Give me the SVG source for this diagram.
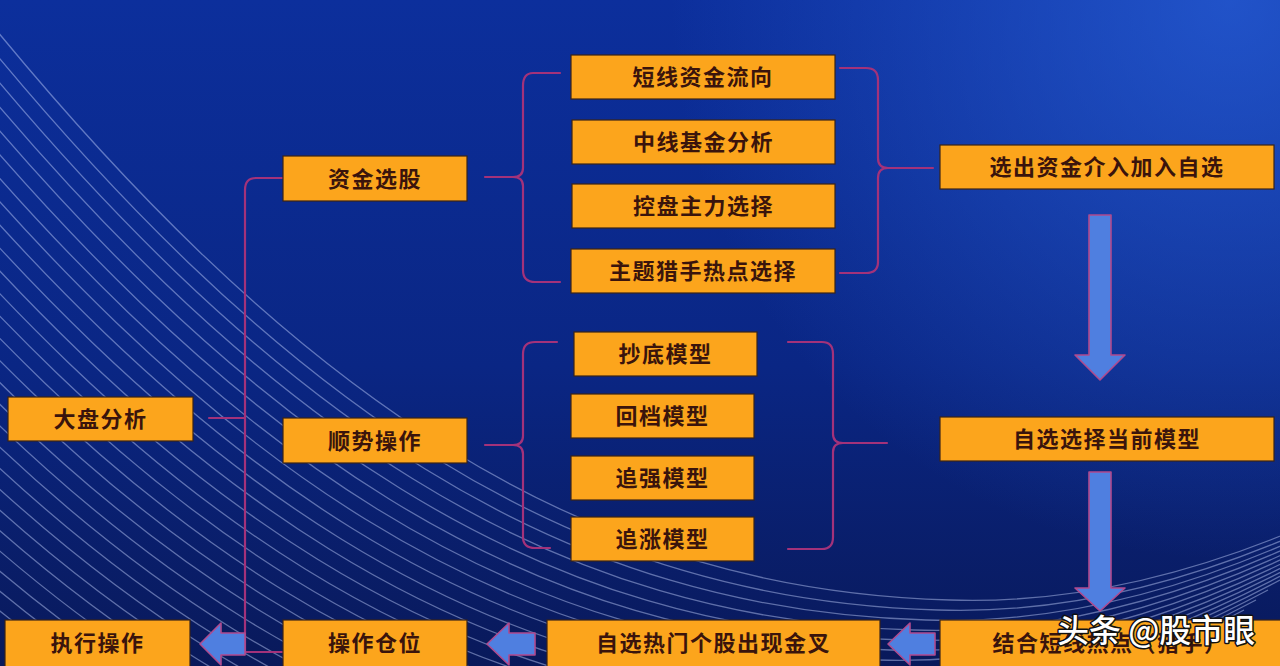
<svg xmlns="http://www.w3.org/2000/svg" xmlns:xlink="http://www.w3.org/1999/xlink" width="1280" height="666" viewBox="0 0 1280 666">
<defs>
<linearGradient id="bgv" x1="0" y1="0" x2="0" y2="1">
<stop offset="0" stop-color="#0c2f9c"/>
<stop offset="0.55" stop-color="#0a2684"/>
<stop offset="1" stop-color="#09195a"/>
</linearGradient>
<radialGradient id="bgr" cx="1230" cy="0" r="560" gradientUnits="userSpaceOnUse">
<stop offset="0" stop-color="#2a62dc" stop-opacity="0.7"/>
<stop offset="1" stop-color="#2a62dc" stop-opacity="0"/>
</radialGradient>
<path id="bgline" d="M -60 -40 C 300 420, 600 590, 950 600 C 1100 605, 1250 560, 1400 480"/>
<style>
.box{fill:#fca51c;stroke:#3a2418;stroke-width:1.2}
.lbl{font-family:"Noto Sans CJK SC","Noto Sans",sans-serif;font-size:22px;font-weight:700;fill:#3a140c;text-anchor:middle;letter-spacing:1.5px}
.con{fill:none;stroke:#a3327a;stroke-width:2.2;stroke-linecap:round;stroke-linejoin:round}
.arr{fill:#4f7fe0;stroke:#b04a8e;stroke-width:1.6;stroke-linejoin:round}
.bl{fill:none;stroke:#c8d4ff;stroke-opacity:0.45;stroke-width:1.3}
.wm{font-family:"Noto Sans CJK SC","Noto Sans",sans-serif;font-size:32px;font-weight:500;fill:#ffffff;stroke:#111111;stroke-width:3px;paint-order:stroke;stroke-linejoin:round}
</style>
</defs>
<rect x="0" y="0" width="1280" height="666" fill="url(#bgv)"/>
<rect x="0" y="0" width="1280" height="666" fill="url(#bgr)"/>
<g id="bg-lines" class="bl">
<use href="#bgline"/>
<use href="#bgline" transform="translate(-12,10)"/>
<use href="#bgline" transform="translate(-24,20)"/>
<use href="#bgline" transform="translate(-36,30)"/>
<use href="#bgline" transform="translate(-48,40)"/>
<use href="#bgline" transform="translate(-60,50)"/>
<use href="#bgline" transform="translate(-72,60)"/>
<use href="#bgline" transform="translate(-84,70)"/>
<use href="#bgline" transform="translate(-96,80)"/>
<use href="#bgline" transform="translate(-108,90)"/>
<use href="#bgline" transform="translate(-120,100)"/>
<use href="#bgline" transform="translate(-132,110)"/>
<use href="#bgline" transform="translate(-144,120)"/>
<use href="#bgline" transform="translate(-156,130)"/>
<use href="#bgline" transform="translate(-168,140)"/>
<use href="#bgline" transform="translate(-180,150)"/>
<use href="#bgline" transform="translate(-192,160)"/>
<use href="#bgline" transform="translate(-204,170)"/>
<use href="#bgline" transform="translate(-216,180)"/>
<use href="#bgline" transform="translate(-228,190)"/>
<use href="#bgline" transform="translate(-240,200)"/>
<use href="#bgline" transform="translate(-252,210)"/>
<use href="#bgline" transform="translate(-264,220)"/>
<use href="#bgline" transform="translate(-276,230)"/>
<use href="#bgline" transform="translate(-288,240)"/>
<use href="#bgline" transform="translate(-300,250)"/>
<use href="#bgline" transform="translate(-312,260)"/>
</g>
<g id="connectors">
<path class="con" d="M283 178 H256 Q245 178 245 190 V652 H283"/>
<path class="con" d="M209 418 H245"/>
<path class="con" d="M560 73 H533 Q523 73 523 86 V168 Q523 177 513 177 H485 M513 177 Q523 177 523 186 V270 Q523 282 535 282 H560"/>
<path class="con" d="M840 68 H866 Q878 68 878 80 V158 Q878 168 888 168 H933 M888 168 Q878 168 878 178 V262 Q878 273 866 273 H840"/>
<path class="con" d="M557 342 H535 Q523 342 523 354 V436 Q523 445 513 445 H485 M513 445 Q523 445 523 454 V537 Q523 548 535 548 H550"/>
<path class="con" d="M788 342 H822 Q833 342 833 354 V434 Q833 443 843 443 H887 M843 443 Q833 443 833 452 V537 Q833 549 822 549 H788"/>
<polygon class="arr" points="1089,215 1111,215 1111,355 1125,355 1100,380 1075,355 1089,355"/>
<polygon class="arr" points="1089,472 1111,472 1111,588 1125,588 1100,611 1075,588 1089,588"/>
<polygon class="arr" points="935,633 935,655 910,655 910,665 888,644 910,623 910,633"/>
<polygon class="arr" points="535,633 535,655 509,655 509,665 487,644 509,623 509,633"/>
<polygon class="arr" points="245,633 245,655 221,655 221,665 200,644 221,623 221,633"/>
</g>
<g id="n_dapan"><rect class="box" x="8" y="397" width="185" height="44"/><text class="lbl" x="100.5" y="427">大盘分析</text></g>
<g id="n_zjxg"><rect class="box" x="283" y="156" width="184" height="45"/><text class="lbl" x="375" y="186.5">资金选股</text></g>
<g id="n_sscz"><rect class="box" x="283" y="418" width="184" height="45"/><text class="lbl" x="375" y="448.5">顺势操作</text></g>
<g id="n_dxzj"><rect class="box" x="571" y="55" width="264" height="44"/><text class="lbl" x="703" y="85">短线资金流向</text></g>
<g id="n_zxjj"><rect class="box" x="572" y="120" width="263" height="44"/><text class="lbl" x="703.5" y="150">中线基金分析</text></g>
<g id="n_kpzl"><rect class="box" x="572" y="184" width="263" height="44"/><text class="lbl" x="703.5" y="214">控盘主力选择</text></g>
<g id="n_ztls"><rect class="box" x="571" y="249" width="264" height="44"/><text class="lbl" x="703" y="279">主题猎手热点选择</text></g>
<g id="n_cd"><rect class="box" x="574" y="332" width="183" height="44"/><text class="lbl" x="665.5" y="362">抄底模型</text></g>
<g id="n_hd"><rect class="box" x="571" y="394" width="183" height="44"/><text class="lbl" x="662.5" y="424">回档模型</text></g>
<g id="n_zq"><rect class="box" x="571" y="456" width="183" height="44"/><text class="lbl" x="662.5" y="486">追强模型</text></g>
<g id="n_zz"><rect class="box" x="571" y="517" width="183" height="44"/><text class="lbl" x="662.5" y="547">追涨模型</text></g>
<g id="n_xczj"><rect class="box" x="940" y="145" width="334" height="44"/><text class="lbl" x="1107" y="175">选出资金介入加入自选</text></g>
<g id="n_zxxz"><rect class="box" x="940" y="417" width="334" height="44"/><text class="lbl" x="1107" y="447">自选选择当前模型</text></g>
<g id="n_jh"><rect class="box" x="940" y="620" width="345" height="52"/><text class="lbl" x="1110" y="651">结合短线热点（猎手）</text></g>
<g id="n_zxrm"><rect class="box" x="547" y="620" width="333" height="52"/><text class="lbl" x="713.5" y="651">自选热门个股出现金叉</text></g>
<g id="n_czcw"><rect class="box" x="283" y="620" width="184" height="52"/><text class="lbl" x="375" y="651">操作仓位</text></g>
<g id="n_zxcz"><rect class="box" x="5" y="620" width="185" height="52"/><text class="lbl" x="97.5" y="651">执行操作</text></g>
<g id="watermark"><text class="wm" x="1057" y="642">头条 @股市眼</text></g>
</svg>
